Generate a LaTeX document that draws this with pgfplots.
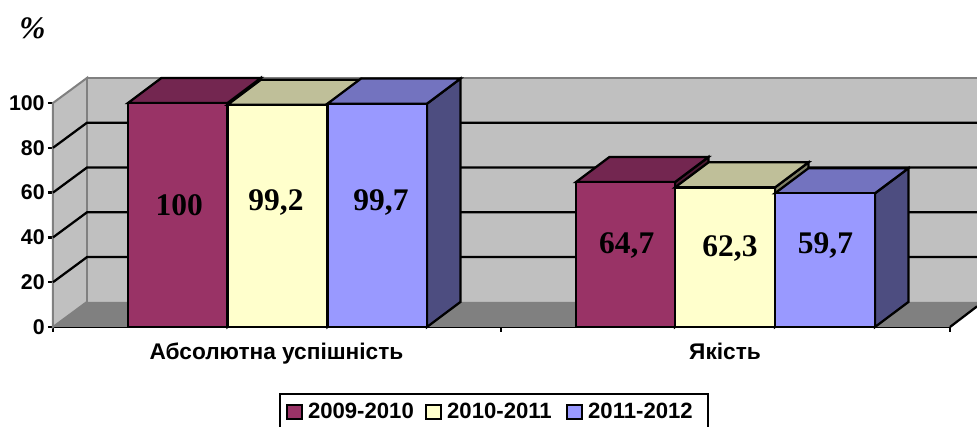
\documentclass[border=0pt]{standalone}
\usepackage{pgfplots}
\pgfplotsset{compat=1.18}
\usepackage{fontspec}
\setmainfont{Liberation Sans}
\newfontfamily\timesf{Liberation Serif}
\definecolor{wall}{HTML}{C0C0C0}
\definecolor{floorc}{HTML}{808080}
\definecolor{ca}{HTML}{993366}\definecolor{cat}{HTML}{732650}\definecolor{cas}{HTML}{4D1A33}
\definecolor{cb}{HTML}{FFFFCC}\definecolor{cbt}{HTML}{BFBF99}\definecolor{cbs}{HTML}{808066}
\definecolor{cc}{HTML}{9999FF}\definecolor{cct}{HTML}{7373BF}\definecolor{ccs}{HTML}{4D4D80}
\pgfplotsset{e/.style={forget plot, draw=black, line width=1.7pt}}
\begin{document}
\begin{tikzpicture}[x=1pt,y=1pt]
\begin{axis}[
  scale only axis, width=672.75pt, height=168pt,
  xmin=53, xmax=950, ymin=0, ymax=100, clip=false,
  axis x line=bottom, axis y line=left,
  x axis line style={-, black, line width=1.7pt},
  y axis line style={-, floorc, line width=1.5pt},
  y tick style={black, line width=1.7pt},
  ytick={0,20,40,60,80,100},
  major tick length=3.75pt,
  tick align=outside,
  xtick={276.5,725}, xticklabels={Абсолютна успішність, Якість},
  major x tick style={draw=none},
  minor xtick={53,501,950},
  minor x tick style={black, line width=1pt},
  minor tick length=3.5pt,
  /pgf/number format/assume math mode=true,
  yticklabel style={font=\fontsize{16}{18}\bfseries\selectfont, xshift=1pt},
  xticklabel style={font=\fontsize{17}{20}\bfseries\selectfont, yshift=-4.5pt},
  legend columns=3,
  legend style={at={(axis cs:279,-29.6)}, anchor=north west, draw=black, line width=1.5pt,
    font=\fontsize{16.6}{19}\bfseries\selectfont, inner xsep=4.25pt, inner ysep=4.5pt,
    /tikz/every even column/.append style={column sep=6.25pt}},
  legend image code/.code={\draw[#1, line width=1.5pt, draw=black] (0pt,-5.25pt) rectangle (11.25pt,5.25pt);},
]
\addlegendimage{fill=ca}\addlegendentry{\hspace*{2pt}2009-2010}
\addlegendimage{fill=cb}\addlegendentry{\hspace*{2pt}2010-2011\hspace*{2.25pt}}
\addlegendimage{fill=cc}\addlegendentry{\hspace*{2pt}2011-2012\hspace*{5.25pt}}
% walls and floor
\addplot[forget plot, fill=wall, draw=floorc, line width=1.5pt] coordinates {(53,0)(87,11.2)(87,111.2)(53,100)} --cycle;
\addplot[forget plot, fill=wall, draw=none] coordinates {(87,11.2)(977,11.2)(977,111.2)(87,111.2)} --cycle;
\addplot[forget plot, draw=floorc, line width=1.5pt] coordinates {(87,11.2)(87,111.2)(977,111.2)};
\addplot[forget plot, fill=floorc, draw=none] coordinates {(53,0)(950,0)(977,9.2)(977,11.2)(87,11.2)} --cycle;
% gridlines
\addplot[e] coordinates {(53,20)(87,31.2)(977,31.2)};
\addplot[e] coordinates {(53,40)(87,51.2)(977,51.2)};
\addplot[e] coordinates {(53,60)(87,71.2)(977,71.2)};
\addplot[e] coordinates {(53,80)(87,91.2)(977,91.2)};
\addplot[e] coordinates {(950,0)(977,9.2)};
% group 1
\addplot[e, fill=cas] coordinates {(227.5,0)(261,11.2)(261,111.2)(227.5,100)} --cycle;
\addplot[e, fill=cat] coordinates {(128,100)(161.5,111.2)(261,111.2)(227.5,100)} --cycle;
\addplot[e, fill=ca] coordinates {(128,0)(227.5,0)(227.5,100)(128,100)} --cycle;
\addplot[e, fill=cbs] coordinates {(327.5,0)(361,11.2)(361,110.4)(327.5,99.2)} --cycle;
\addplot[e, fill=cbt] coordinates {(227.5,99.2)(261,110.4)(361,110.4)(327.5,99.2)} --cycle;
\addplot[e, fill=cb] coordinates {(227.5,0)(327.5,0)(327.5,99.2)(227.5,99.2)} --cycle;
\addplot[e, fill=ccs] coordinates {(427,0)(460.5,11.2)(460.5,110.9)(427,99.7)} --cycle;
\addplot[e, fill=cct] coordinates {(327.5,99.7)(361,110.9)(460.5,110.9)(427,99.7)} --cycle;
\addplot[e, fill=cc] coordinates {(327.5,0)(427,0)(427,99.7)(327.5,99.7)} --cycle;
% group 2
\addplot[e, fill=cas] coordinates {(675,0)(708.5,11.2)(708.5,75.9)(675,64.7)} --cycle;
\addplot[e, fill=cat] coordinates {(576,64.7)(609.5,75.9)(708.5,75.9)(675,64.7)} --cycle;
\addplot[e, fill=ca] coordinates {(576,0)(675,0)(675,64.7)(576,64.7)} --cycle;
\addplot[e, fill=cbs] coordinates {(775,0)(808.5,11.2)(808.5,73.5)(775,62.3)} --cycle;
\addplot[e, fill=cbt] coordinates {(675,62.3)(708.5,73.5)(808.5,73.5)(775,62.3)} --cycle;
\addplot[e, fill=cb] coordinates {(675,0)(775,0)(775,62.3)(675,62.3)} --cycle;
\addplot[e, fill=ccs] coordinates {(875,0)(908.5,11.2)(908.5,70.9)(875,59.7)} --cycle;
\addplot[e, fill=cct] coordinates {(775,59.7)(808.5,70.9)(908.5,70.9)(875,59.7)} --cycle;
\addplot[e, fill=cc] coordinates {(775,0)(875,0)(875,59.7)(775,59.7)} --cycle;
% data labels
\addplot[forget plot, draw=none, mark=none, nodes near coords, point meta=explicit symbolic,
  every node near coord/.append style={anchor=base, inner sep=0pt, yshift=0pt, text=black,
    font=\timesf\fontsize{23.6}{26}\bfseries\selectfont}]
  table[meta=l] {
x y l
179.3 49.7 100
276 52.2 99,2
381 52.2 99,7
626.7 32.9 64,7
730 31.4 62,3
825.5 32.6 59,7
};
\node[font=\timesf\fontsize{23.5}{26}\bfseries\itshape\selectfont] at (axis cs:32.5,133.5) {\%};
\coordinate (bl) at (axis cs:0,-44.64);
\coordinate (tr) at (axis cs:977,145.98);
\end{axis}
\pgfresetboundingbox
\path[use as bounding box] (bl) rectangle (tr);
\end{tikzpicture}
\end{document}
